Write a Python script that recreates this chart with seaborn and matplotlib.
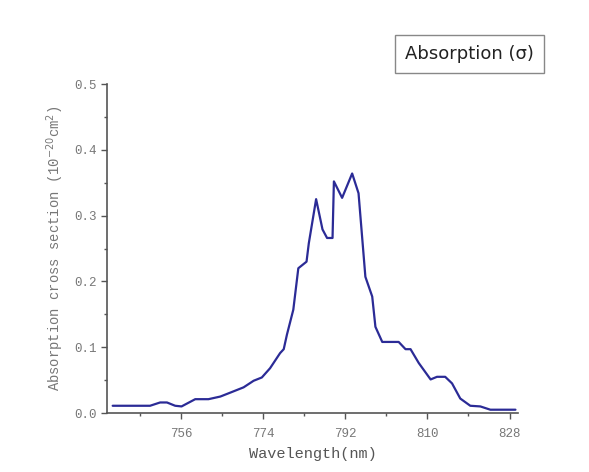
import matplotlib
matplotlib.use("Agg")
import matplotlib.pyplot as plt
from matplotlib.ticker import MultipleLocator, FormatStrFormatter
import seaborn as sns

wavelength = [741.0, 749.2, 751.4, 752.9, 754.7, 756.1, 759.1, 762.0, 764.6, 766.8,
              769.7, 771.9, 773.7, 775.5, 777.7, 778.5, 779.2, 780.6, 781.7, 783.5,
              784.0, 785.6, 787.0, 788.0, 789.2, 789.5, 791.3, 793.5, 794.9, 796.4,
              797.9, 798.6, 800.1, 803.7, 805.2, 806.3, 808.1, 810.7, 812.1, 813.9,
              815.4, 817.2, 819.4, 821.6, 823.8, 829.3]
sigma = [0.011, 0.011, 0.016, 0.016, 0.011, 0.010, 0.021, 0.021, 0.025, 0.031,
         0.039, 0.049, 0.054, 0.068, 0.091, 0.097, 0.119, 0.157, 0.220, 0.230,
         0.258, 0.325, 0.279, 0.266, 0.266, 0.352, 0.327, 0.364, 0.334, 0.207,
         0.177, 0.131, 0.108, 0.108, 0.097, 0.097, 0.076, 0.051, 0.055, 0.055,
         0.045, 0.022, 0.011, 0.010, 0.005, 0.005]
x_ticks = [756, 774, 792, 810, 828]
legend_text = "Absorption (σ)"

sns.set_style("ticks")
plt.rcParams['font.family'] = ['Liberation Mono', 'DejaVu Sans']

fig = plt.figure(figsize=(5.89, 4.72), dpi=100)
ax = fig.add_axes([0.182, 0.125, 0.697, 0.697])

sns.lineplot(x=wavelength, y=sigma, ax=ax, color="#2b2b96", linewidth=1.6)

ax.set_xlim(739.8, 829.8)
ax.set_ylim(0, 0.5)
ax.set_xticks(x_ticks)
ax.xaxis.set_minor_locator(MultipleLocator(9))
ax.yaxis.set_major_locator(MultipleLocator(0.1))
ax.yaxis.set_minor_locator(MultipleLocator(0.05))
ax.yaxis.set_major_formatter(FormatStrFormatter('%.1f'))

for s in ["top", "right"]:
    ax.spines[s].set_visible(False)
for s in ["left", "bottom"]:
    ax.spines[s].set_color("#555555")
    ax.spines[s].set_linewidth(1.2)

ax.tick_params(axis="both", which="major", length=4, width=1, color="#555555",
               labelsize=9, labelcolor="#777777", direction="out")
ax.tick_params(axis="x", which="major", pad=7)
ax.tick_params(axis="both", which="minor", length=2, width=1, color="#555555",
               direction="out")

ax.set_xlabel("Wavelength(nm)", fontsize=11, color="#555555", labelpad=5)
ax.set_ylabel(r"Absorption cross section (10$^{-20}$cm$^{2}$)", fontsize=10,
              color="#777777", labelpad=6)

fig.text(0.797, 0.886, legend_text, ha="center", va="center", fontsize=13,
         family="DejaVu Sans", color="#222222",
         bbox=dict(boxstyle="square,pad=0.55", facecolor="white",
                   edgecolor="#888888", linewidth=1))

fig.savefig("out.png", dpi=100)
